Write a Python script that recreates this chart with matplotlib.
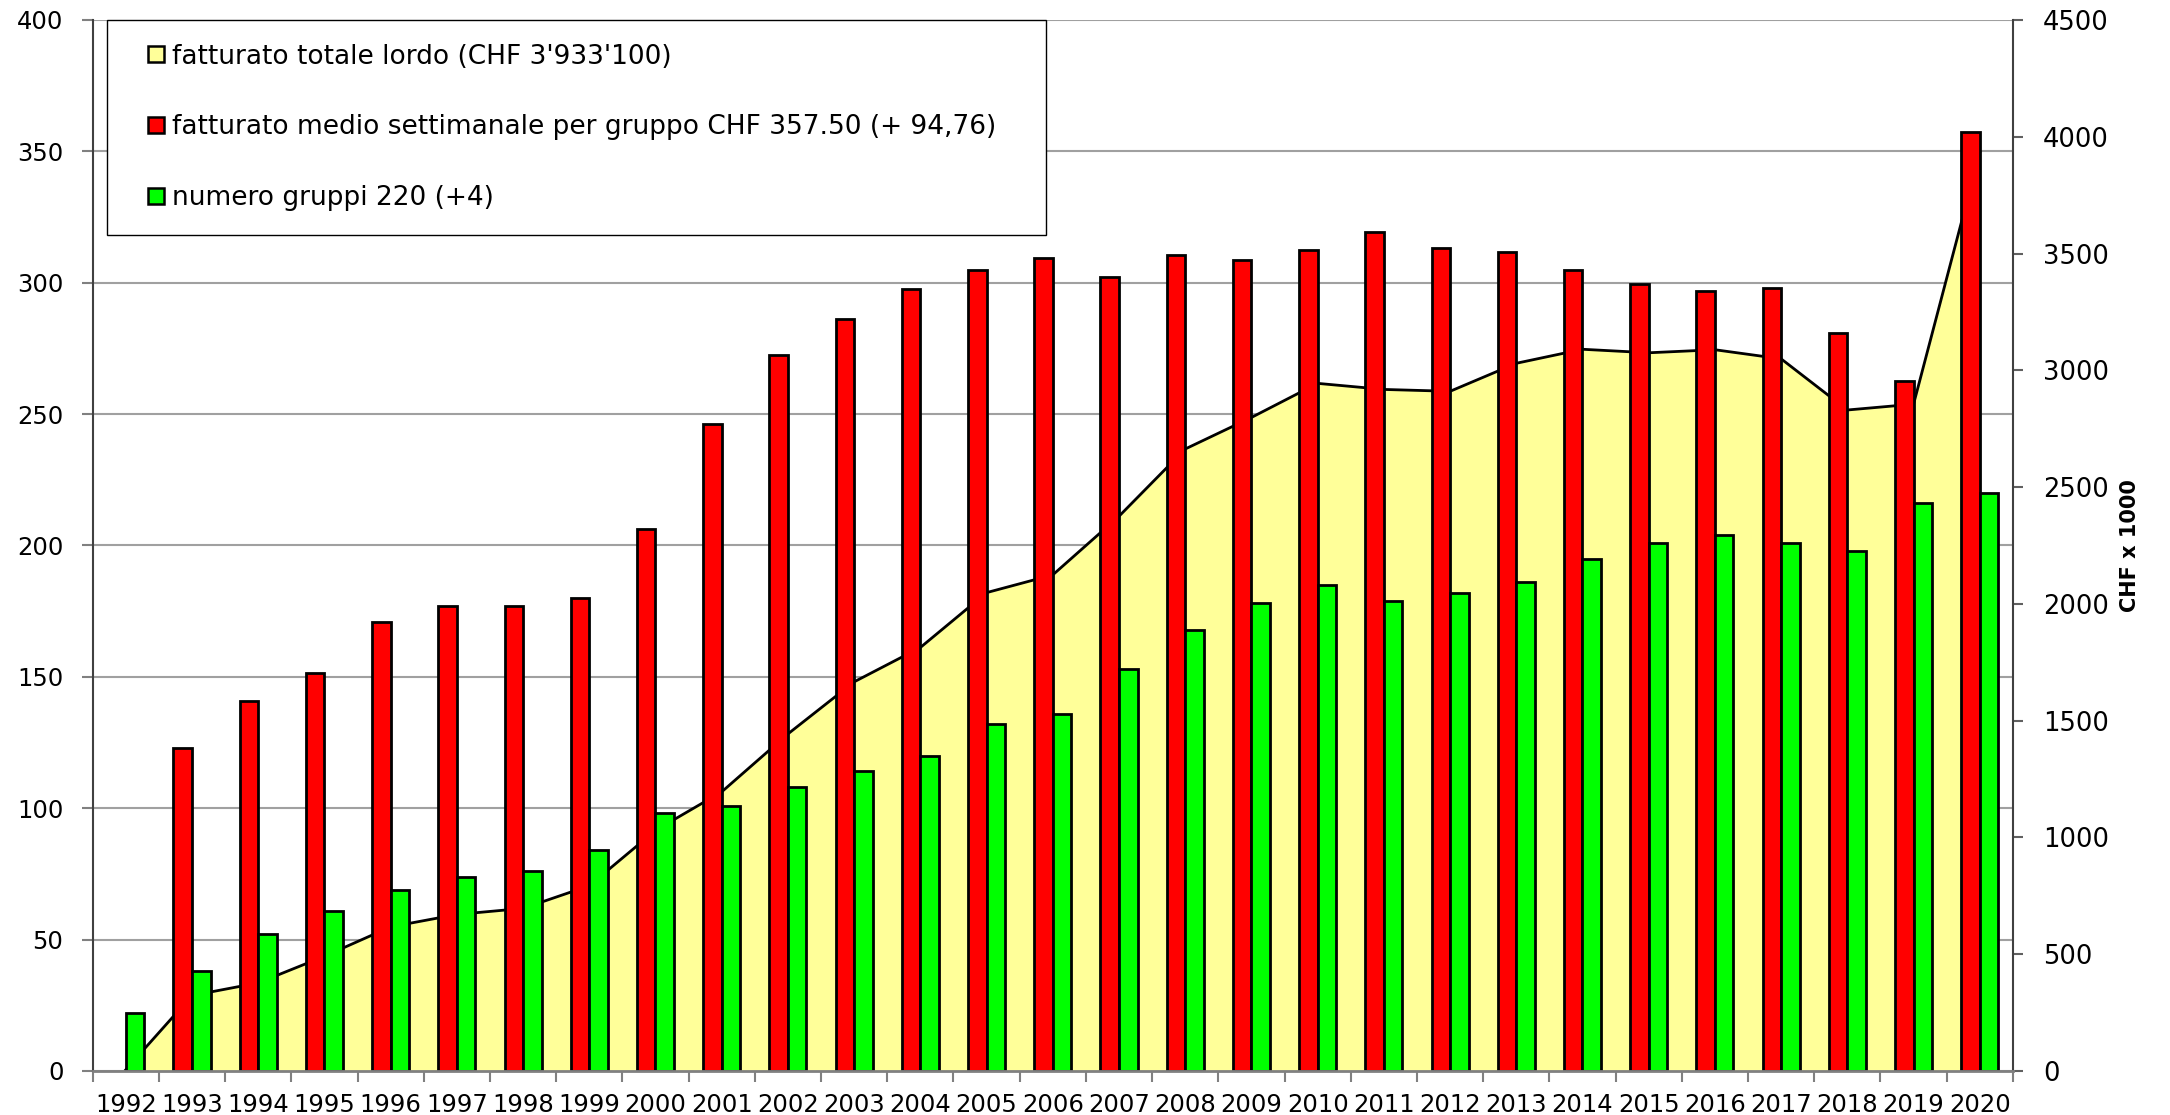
import numpy as np
import matplotlib.pyplot as plt
from matplotlib.patches import Patch, Rectangle
from matplotlib.legend_handler import HandlerPatch

# dati
anni = list(range(1992, 2021))
fatturato_totale = [5, 323, 377, 491, 617, 670, 696, 793, 1030, 1195, 1443, 1666, 1813, 2048,
                    2124, 2375, 2663, 2798, 2944, 2918, 2910, 3030, 3090, 3075, 3088, 3049,
                    2830, 2855, 3933.1]
fatturato_medio = [np.nan, 123.1, 140.8, 151.6, 170.9, 176.9, 176.9, 179.9, 206.3, 246.4, 272.5,
                   286.2, 297.7, 304.7, 309.3, 302.3, 310.7, 308.6, 312.4, 319.4, 313.2, 311.8,
                   304.8, 299.4, 297.0, 298.0, 281.0, 262.74, 357.5]
numero_gruppi = [22, 38, 52, 61, 69, 74, 76, 84, 98, 101, 108, 114, 120, 132, 136, 153, 168,
                 178, 185, 179, 182, 186, 195, 201, 204, 201, 198, 216, 220]

etichette = ["fatturato totale lordo (CHF 3'933'100)",
             "fatturato medio settimanale per gruppo CHF 357.50 (+ 94,76)",
             "numero gruppi 220 (+4)"]

tick_sx = list(range(0, 401, 50))
tick_dx = list(range(0, 4501, 500))

GIALLO = '#FFFF99'
ROSSO = '#FF0000'
VERDE = '#00FF00'

plt.rcParams['font.family'] = ['DejaVu Sans']

x = np.arange(len(anni))
larg = 0.28
xlim = (-0.5, len(anni) - 0.5)


### quadratino della legenda allineato a destra nello spazio della maniglia
def quadratino(legend, orig_handle, xdescent, ydescent, width, height, fontsize):
    s = height
    return Rectangle((width - xdescent - s, -ydescent), s, s)


fig = plt.figure(figsize=(21.7, 11.15), dpi=100)
pos = [0.0427, 0.0395, 0.8849, 0.9426]

# asse di fondo: solo griglia
ax_bg = fig.add_axes(pos)
ax_bg.set_xlim(*xlim)
ax_bg.set_ylim(0, 400)
ax_bg.set_yticks(tick_sx)
ax_bg.set_xticks([])
ax_bg.grid(axis='y', color='#A0A0A0', lw=1.5)
ax_bg.tick_params(which='both', left=False, labelleft=False, bottom=False, labelbottom=False)
for s in ax_bg.spines.values():
    s.set_visible(False)

# area del fatturato totale (asse destro)
ax_area = fig.add_axes(pos)
ax_area.patch.set_visible(False)
ax_area.fill_between(x, 0, fatturato_totale, facecolor=GIALLO, edgecolor='none')
ax_area.plot(x, fatturato_totale, color='black', lw=2)
ax_area.set_xlim(*xlim)
ax_area.set_xticks([])
ax_area.set_ylim(0, 4500)
ax_area.set_yticks(tick_dx)
ax_area.yaxis.tick_right()
ax_area.yaxis.set_label_position('right')
ax_area.tick_params(axis='y', labelsize=18.5, length=7.5, width=1.5, color='#606060', pad=14)
for k in ['left', 'top', 'bottom']:
    ax_area.spines[k].set_visible(False)
ax_area.spines['right'].set_color('#404040')
ax_area.spines['right'].set_linewidth(1.5)
ax_area.set_ylabel('CHF x 1000', fontsize=15, fontweight='bold', rotation=90,
                   va='center', ha='center')
ax_area.yaxis.set_label_coords(1.061, 0.5)

# barre (asse sinistro)
ax = fig.add_axes(pos)
ax.patch.set_visible(False)
ax.bar(x - larg / 2, fatturato_medio, width=larg, color=ROSSO, edgecolor='black', lw=2)
ax.bar(x + larg / 2, numero_gruppi, width=larg, color=VERDE, edgecolor='black', lw=2)
ax.set_ylim(0, 400)
ax.set_yticks(tick_sx)
ax.set_xlim(*xlim)
ax.set_xticks(np.arange(len(anni) + 1) - 0.5)
ax.set_xticklabels([])
ax.set_xticks(x, minor=True)
ax.set_xticklabels([str(a) for a in anni], minor=True)
ax.tick_params(axis='x', which='major', length=8, width=1.5, color='#808080')
ax.tick_params(axis='x', which='minor', length=0, labelsize=17.5, pad=16)
ax.tick_params(axis='y', labelsize=17.5, length=8, width=1.5, color='#808080', pad=13)
ax.spines['top'].set_visible(False)
ax.spines['right'].set_visible(False)
ax.spines['left'].set_color('#404040')
ax.spines['left'].set_linewidth(1.5)
ax.spines['bottom'].set_color('#808080')
ax.spines['bottom'].set_linewidth(2)

maniglie = [Patch(facecolor=GIALLO, edgecolor='black', lw=1.8),
            Patch(facecolor=ROSSO, edgecolor='black', lw=1.8),
            Patch(facecolor=VERDE, edgecolor='black', lw=1.8)]
leg = ax.legend(maniglie, etichette, loc='upper left', bbox_to_anchor=(0.0073, 0, 0.4891, 1.0),
                mode='expand', borderaxespad=0, fontsize=19, handlelength=1.26,
                handleheight=0.55, handletextpad=0.3, labelspacing=1.69, borderpad=0.9,
                fancybox=False, framealpha=1,
                handler_map={Patch: HandlerPatch(patch_func=quadratino)})
leg.get_frame().set_edgecolor('black')
leg.get_frame().set_linewidth(1)

fig.savefig('out.png', dpi=100)
